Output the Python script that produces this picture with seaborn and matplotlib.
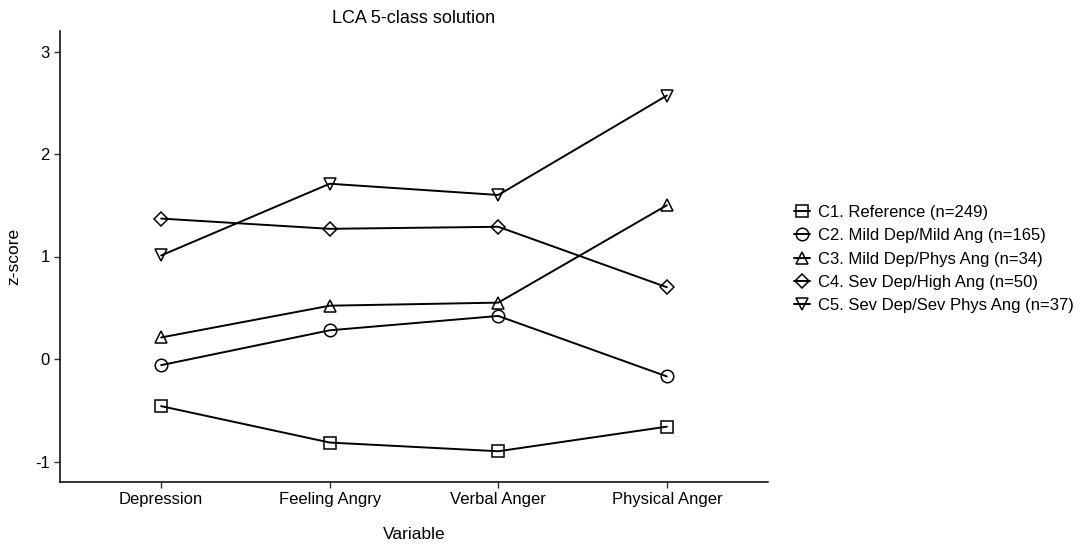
import matplotlib
matplotlib.use("Agg")
import matplotlib.pyplot as plt
import seaborn as sns
import pandas as pd

variables = ["Depression", "Feeling Angry", "Verbal Anger", "Physical Anger"]
classes = [
    "C1. Reference (n=249)",
    "C2. Mild Dep/Mild Ang (n=165)",
    "C3. Mild Dep/Phys Ang (n=34)",
    "C4. Sev Dep/High Ang (n=50)",
    "C5. Sev Dep/Sev Phys Ang (n=37)",
]
c1 = [-0.46, -0.815, -0.90, -0.66]
c2 = [-0.06, 0.28, 0.42, -0.17]
c3 = [0.21, 0.52, 0.55, 1.50]
c4 = [1.37, 1.27, 1.29, 0.70]
c5 = [1.01, 1.71, 1.60, 2.57]
yticks = [-1, 0, 1, 2, 3]

series = [c1, c2, c3, c4, c5]
rows = []
for cls, vals in zip(classes, series):
    for v, z in zip(variables, vals):
        rows.append({"Variable": v, "z-score": z, "Class": cls})
df = pd.DataFrame(rows)

sns.set_theme(style="ticks", rc={"text.color": "black", "axes.labelcolor": "black",
                                 "xtick.color": "black", "ytick.color": "black"})
plt.rcParams["font.family"] = ["Liberation Sans", "DejaVu Sans"]

fig = plt.figure(figsize=(10.84, 5.49), dpi=100)
ax = fig.add_axes([60 / 1084, 67 / 549, 708 / 1084, 451 / 549])

marker_map = dict(zip(classes, ["s", "o", "^", "D", "v"]))
sns.lineplot(
    data=df, x="Variable", y="z-score", style="Class", markers=marker_map,
    dashes=False, color="black", markersize=9, markerfacecolor="none",
    markeredgecolor="black", markeredgewidth=1.1, linewidth=1.4,
    sort=False, ax=ax, legend=True,
)
for line in ax.lines:
    if line.get_marker() == "D":
        line.set_markersize(7.5)

ax.set_xlim(-0.6, 3.6)
ax.set_ylim(-1.2, 3.2)
ax.set_yticks(yticks)
ax.set_yticklabels([str(t) for t in yticks])
ax.tick_params(axis="both", labelsize=12, length=4, width=1, colors="black")
ax.tick_params(axis="both", color="#333333")
for s in ["top", "right"]:
    ax.spines[s].set_visible(False)
for s in ["left", "bottom"]:
    ax.spines[s].set_linewidth(1.1)
    ax.spines[s].set_color("black")

ax.set_xlabel("Variable", fontsize=12.5, labelpad=14, color="black")
ax.set_ylabel("z-score", fontsize=12.5, color="black")
ax.yaxis.set_label_coords(-0.055, 0.5)
ax.set_title("LCA 5-class solution", fontsize=13, pad=6, color="black")

handles, labels = ax.get_legend_handles_labels()
ax.get_legend().remove()
for h in handles:
    if h.get_marker() == "D":
        h.set_markersize(7.5)
fig.legend(
    handles, labels, loc="center left", bbox_to_anchor=(782 / 1084, 1 - 259 / 549),
    frameon=False, fontsize=12, handlelength=1.0, handletextpad=0.45,
    labelspacing=0.5, borderpad=0.2, labelcolor="black",
)

fig.savefig("out.png", dpi=100, facecolor="white")
